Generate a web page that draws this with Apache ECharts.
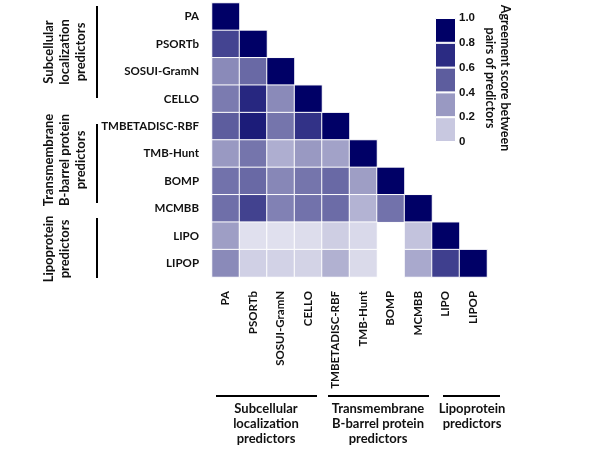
<!DOCTYPE html>
<html><head><meta charset="utf-8">
<script src="https://cdn.jsdelivr.net/npm/echarts@6/dist/echarts.min.js"></script>
<style>html,body{margin:0;padding:0;background:#fff}#c{width:600px;height:450px}</style>
</head><body><div id="c"></div>
<script>
// Categories (same order on both axes)
const predictors = ['PA','PSORTb','SOSUI-GramN','CELLO','TMBETADISC-RBF','TMB-Hunt','BOMP','MCMBB','LIPO','LIPOP'];

// Lower-triangle agreement scores: each row against PA ... itself (null = no cell)
const rowPA        = [1.0];
const rowPSORTb    = [0.70, 1.0];
const rowSOSUI     = [0.45, 0.56, 1.0];
const rowCELLO     = [0.50, 0.82, 0.45, 1.0];
const rowTMBETA    = [0.60, 0.87, 0.52, 0.77, 1.0];
const rowTMBHunt   = [0.40, 0.52, 0.31, 0.40, 0.36, 1.0];
const rowBOMP      = [0.53, 0.56, 0.46, 0.52, 0.56, 0.38, 1.0];
const rowMCMBB     = [0.54, 0.71, 0.48, 0.53, 0.55, 0.29, 0.53, 1.0];
const rowLIPO      = [0.38, 0.03, 0.03, 0.05, 0.16, 0.08, null, 0.22, 1.0];
const rowLIPOP     = [0.45, 0.14, 0.13, 0.12, 0.30, 0.07, null, 0.33, 0.72, 1.0];
const rows = [rowPA,rowPSORTb,rowSOSUI,rowCELLO,rowTMBETA,rowTMBHunt,rowBOMP,rowMCMBB,rowLIPO,rowLIPOP];

// Colour-scale tick labels
const legendTicks = [0, 0.2, 0.4, 0.6, 0.8, 1.0];
const legendTitle = 'Agreement score between\npairs of predictors';

// Group annotations
const leftGroups   = ['Subcellular\nlocalization\npredictors', 'Transmembrane\nB-barrel protein\npredictors', 'Lipoprotein\npredictors'];
const bottomGroups = ['Subcellular\nlocalization\npredictors', 'Transmembrane\nB-barrel protein\npredictors', 'Lipoprotein\npredictors'];

const scaleColors = ['#e4e4f0','#c8c8e0','#9999c2','#5d5d9e','#2b2b83','#000066'];
const FONT = 'Lato';

const heatData = [];
rows.forEach((r, i) => r.forEach((v, j) => { if (v !== null) heatData.push([j, i, v]); }));

const bandSeries = [];
for (let k = 0; k < legendTicks.length - 1; k++) {
  bandSeries.push({
    type: 'bar', xAxisIndex: 1, yAxisIndex: 1, stack: 'legend', barWidth: '100%',
    data: [+(legendTicks[k+1] - legendTicks[k]).toFixed(2)],
    itemStyle: { color: scaleColors[k+1], borderColor: '#fff', borderWidth: 1 },
    silent: true, animation: false
  });
}

const chart = echarts.init(document.getElementById('c'), null, { renderer: 'canvas' });
const txt = { fontFamily: FONT, fontWeight: 'bold', fill: '#111' };

chart.setOption({
  animation: false,
  grid: [
    { left: 212, top: 3, width: 275, height: 274 },
    { left: 435, top: 18, width: 21, height: 124 }
  ],
  xAxis: [
    { type: 'category', data: predictors, gridIndex: 0, position: 'bottom',
      axisLine: { show: false }, axisTick: { show: false }, splitLine: { show: false },
      axisLabel: { rotate: 90, margin: 14, fontFamily: FONT, fontWeight: 'bold', fontSize: 11.5, color: '#111' } },
    { type: 'category', data: [''], gridIndex: 1, show: false }
  ],
  yAxis: [
    { type: 'category', data: predictors, gridIndex: 0, inverse: true,
      axisLine: { show: false }, axisTick: { show: false }, splitLine: { show: false },
      axisLabel: { margin: 13, fontFamily: FONT, fontWeight: 'bold', fontSize: 11.5, color: '#111' } },
    { type: 'value', gridIndex: 1, min: 0, max: 1, interval: 0.2, position: 'right',
      axisLine: { show: false }, axisTick: { show: false }, splitLine: { show: false },
      axisLabel: { margin: 3, fontFamily: 'Liberation Sans', fontWeight: 'bold', fontSize: 11.5, color: '#111',
        formatter: v => v === 0 ? '0' : v.toFixed(1) } }
  ],
  visualMap: { type: 'continuous', show: false, min: 0, max: 1, seriesIndex: 0, inRange: { color: scaleColors } },
  series: [
    { type: 'heatmap', xAxisIndex: 0, yAxisIndex: 0, data: heatData,
      itemStyle: { borderColor: '#fff', borderWidth: 1 }, emphasis: { disabled: true } },
    ...bandSeries
  ],
  graphic: [
    // left group brackets
    { type: 'line', shape: { x1: 97, y1: 6, x2: 97, y2: 98 }, style: { stroke: '#000', lineWidth: 2 } },
    { type: 'line', shape: { x1: 97, y1: 124, x2: 97, y2: 203 }, style: { stroke: '#000', lineWidth: 2 } },
    { type: 'line', shape: { x1: 97, y1: 218, x2: 97, y2: 278 }, style: { stroke: '#000', lineWidth: 2 } },
    { type: 'text', x: 65, y: 52, rotation: Math.PI / 2,
      style: Object.assign({ text: leftGroups[0], fontSize: 13, lineHeight: 16, textAlign: 'center', textVerticalAlign: 'middle' }, txt) },
    { type: 'text', x: 65, y: 160, rotation: Math.PI / 2,
      style: Object.assign({ text: leftGroups[1], fontSize: 13, lineHeight: 16, textAlign: 'center', textVerticalAlign: 'middle' }, txt) },
    { type: 'text', x: 57, y: 249, rotation: Math.PI / 2,
      style: Object.assign({ text: leftGroups[2], fontSize: 13, lineHeight: 16, textAlign: 'center', textVerticalAlign: 'middle' }, txt) },
    // bottom group brackets
    { type: 'line', shape: { x1: 216, y1: 396, x2: 317, y2: 396 }, style: { stroke: '#000', lineWidth: 2 } },
    { type: 'line', shape: { x1: 328, y1: 396, x2: 429, y2: 396 }, style: { stroke: '#000', lineWidth: 2 } },
    { type: 'line', shape: { x1: 443, y1: 396, x2: 500, y2: 396 }, style: { stroke: '#000', lineWidth: 2 } },
    { type: 'text', x: 266, y: 401,
      style: Object.assign({ text: bottomGroups[0], fontSize: 13, lineHeight: 15, textAlign: 'center', textVerticalAlign: 'top' }, txt) },
    { type: 'text', x: 378, y: 401,
      style: Object.assign({ text: bottomGroups[1], fontSize: 13, lineHeight: 15, textAlign: 'center', textVerticalAlign: 'top' }, txt) },
    { type: 'text', x: 472, y: 401,
      style: Object.assign({ text: bottomGroups[2], fontSize: 13, lineHeight: 15, textAlign: 'center', textVerticalAlign: 'top' }, txt) },
    // legend title
    { type: 'text', x: 498, y: 78, rotation: -Math.PI / 2,
      style: Object.assign({ text: legendTitle, fontSize: 12.5, lineHeight: 15, textAlign: 'center', textVerticalAlign: 'middle' }, txt) }
  ]
});
</script>
</body></html>
